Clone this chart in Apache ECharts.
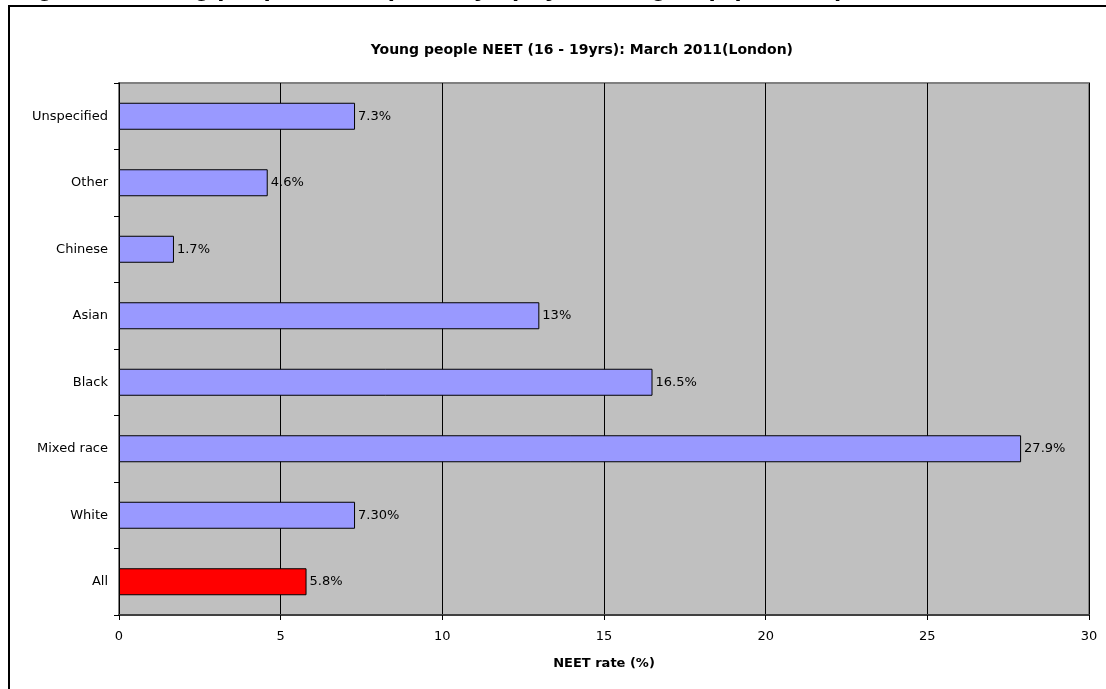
<!DOCTYPE html>
<html>
<head>
<meta charset="utf-8">
<script src="https://cdn.jsdelivr.net/npm/echarts@6/dist/echarts.min.js"></script>
<style>
html,body{margin:0;padding:0;background:#fff;}
#c{width:1106px;height:689px;}
</style>
</head>
<body>
<div id="c"></div>
<script>
const categories = ["All", "White", "Mixed race", "Black", "Asian", "Chinese", "Other", "Unspecified"];
const values = [5.8, 7.3, 27.9, 16.5, 13, 1.7, 4.6, 7.3];
const valueLabels = ["5.8%", "7.30%", "27.9%", "16.5%", "13%", "1.7%", "4.6%", "7.3%"];
const xTicks = [0, 5, 10, 15, 20, 25, 30];
const chartTitle = "Young people NEET (16 - 19yrs): March 2011(London)";
const xAxisName = "NEET rate (%)";
const pageHeading = "Figure 6: Young people NEET (16 - 19yrs) by ethnic group (London)";

const chart = echarts.init(document.getElementById('c'), null, {renderer: 'canvas'});
const FONT = '"DejaVu Sans", Arial, sans-serif';

chart.setOption({
  animation: false,
  backgroundColor: '#ffffff',
  graphic: [
    {type: 'rect', shape: {x: 9, y: 6, width: 1300, height: 900}, style: {fill: 'none', stroke: '#000', lineWidth: 2}, z: 100},
    {type: 'text', left: 14, top: -24, style: {text: pageHeading, font: 'bold 26px "Liberation Sans", Arial, sans-serif', fill: '#000'}, z: 100},
    {type: 'text', x: 793, y: 50, style: {text: chartTitle, font: 'bold 14px ' + FONT, fill: '#000', textAlign: 'right', textVerticalAlign: 'middle'}, z: 100}
  ],
  grid: {
    left: 119, top: 83, right: 17, bottom: 74,
    show: true, backgroundColor: '#C0C0C0', borderColor: '#808080', borderWidth: 2
  },
  xAxis: {
    type: 'value', min: 0, max: 30, interval: 5,
    name: xAxisName, nameLocation: 'middle', nameGap: 42,
    nameTextStyle: {fontFamily: FONT, fontSize: 13, fontWeight: 'bold', color: '#000'},
    axisLine: {show: true, lineStyle: {color: '#404040', width: 2}},
    axisTick: {show: true, length: 5, lineStyle: {color: '#000'}},
    axisLabel: {fontFamily: FONT, fontSize: 13, color: '#000', margin: 15,
      formatter: v => xTicks.includes(v) ? String(v) : ''},
    splitLine: {show: true, lineStyle: {color: '#000', width: 1}}
  },
  yAxis: {
    type: 'category', data: categories,
    axisLine: {show: true, lineStyle: {color: '#000', width: 1}},
    axisTick: {show: true, length: 5, lineStyle: {color: '#000'}},
    axisLabel: {fontFamily: FONT, fontSize: 13, color: '#000', margin: 11},
    splitLine: {show: false}
  },
  series: [{
    type: 'bar',
    data: values.map((v, i) => ({
      value: v,
      itemStyle: {color: categories[i] === 'All' ? '#FF0000' : '#9999FF'}
    })),
    barWidth: 27,
    itemStyle: {borderColor: '#000', borderWidth: 1},
    label: {
      show: true, position: 'right', distance: 3,
      fontFamily: FONT, fontSize: 13, color: '#000',
      formatter: p => valueLabels[p.dataIndex]
    }
  }]
});
</script>
</body>
</html>
